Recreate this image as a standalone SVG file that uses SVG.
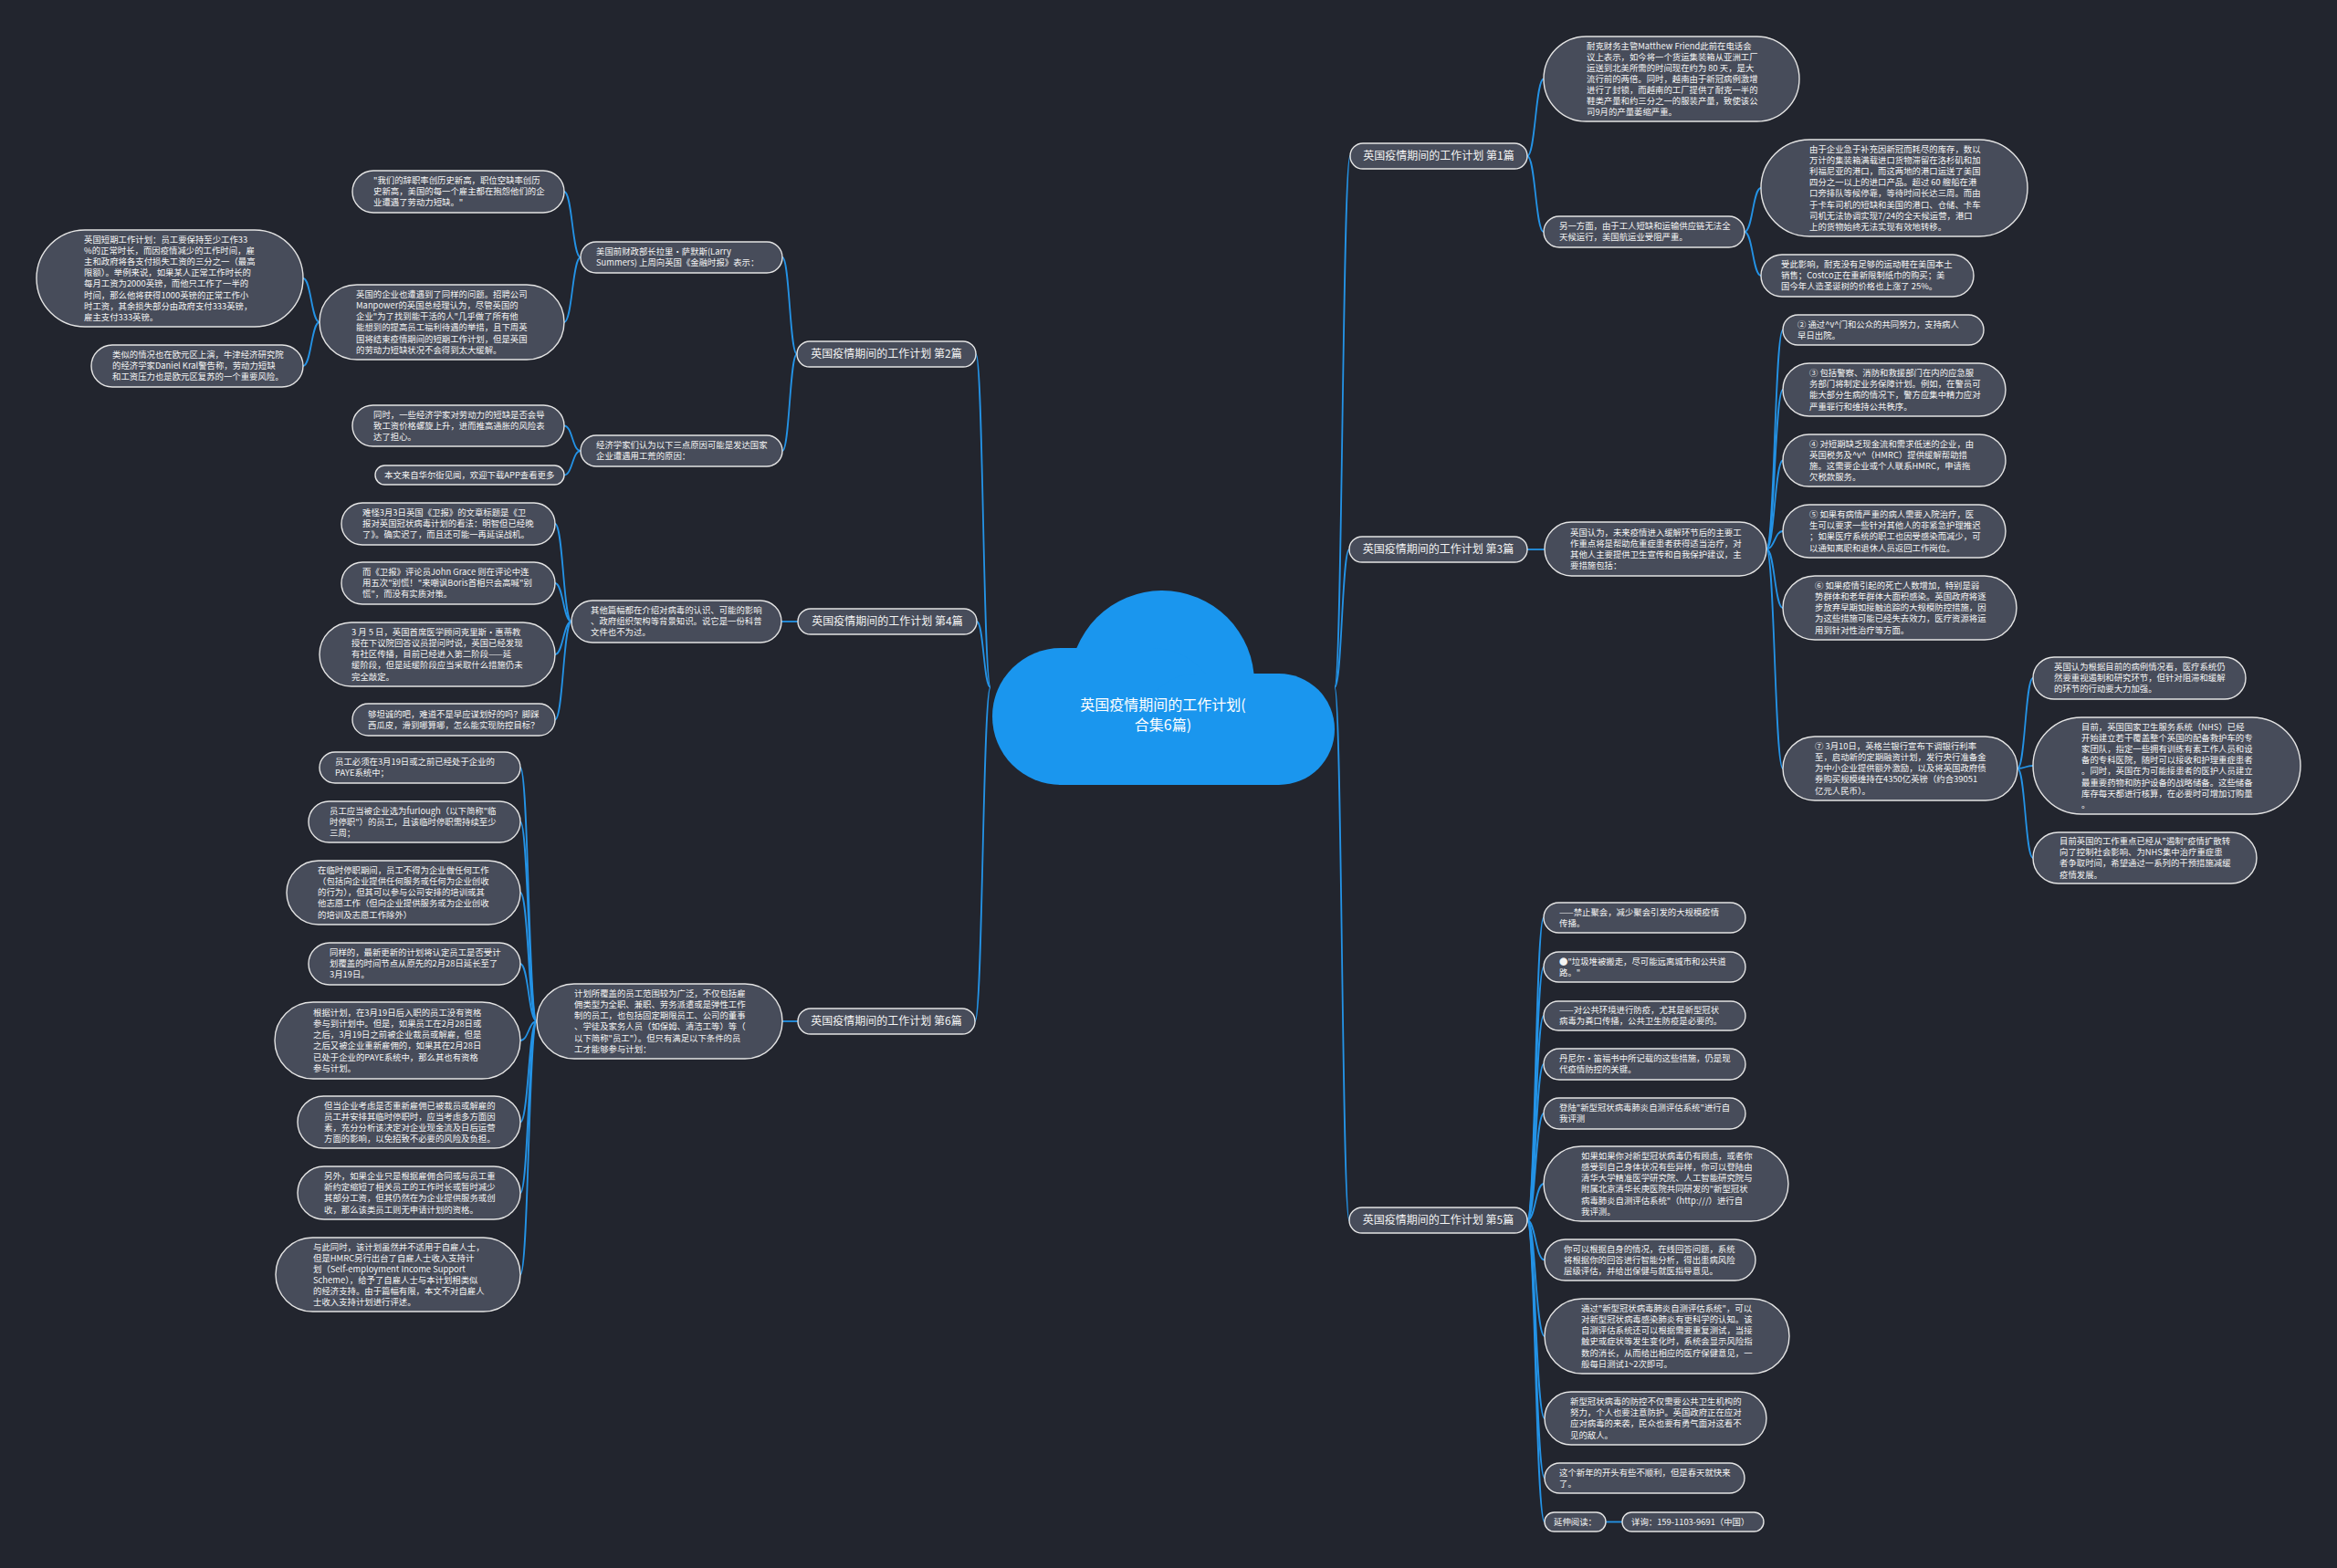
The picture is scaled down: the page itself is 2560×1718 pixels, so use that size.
<svg xmlns="http://www.w3.org/2000/svg" width="2560" height="1718" viewBox="0 0 2560 1718">
<style>
.bg{fill:#22252e}
.cloud{fill:#1a96ee}
.nd rect{fill:#474c5a;stroke:#e4e4e4;stroke-width:1.4}
.t{font-family:"Noto Sans CJK SC","Microsoft YaHei",sans-serif;font-size:9.4px;fill:#f4f4f4}
.lb{font-family:"Noto Sans CJK SC","Microsoft YaHei",sans-serif;font-size:12px;fill:#f4f4f4;text-anchor:middle}
.ct{font-family:"Noto Sans CJK SC","Microsoft YaHei",sans-serif;font-size:16px;fill:#ffffff;text-anchor:middle}
.conn path{fill:none;stroke:#2493e6;stroke-width:1.8}
</style>
<rect class="bg" x="0" y="0" width="2560" height="1718"/>
<g id="connectors" class="conn">
<path d="M1462 753 C1470.5 753 1470.5 171 1479 171"/>
<path d="M1462 753 C1470 753 1470 602 1478 602"/>
<path d="M1462 753 C1470 753 1470 1337 1478 1337"/>
<path d="M1085 753 C1077 753 1077 388 1069 388"/>
<path d="M1085 753 C1077.5 753 1077.5 681 1070 681"/>
<path d="M1085 753 C1076.5 753 1076.5 1119 1068 1119"/>
<path d="M1673 171 C1682 171 1682 86.5 1691 86.5"/>
<path d="M1673 171 C1682 171 1682 254 1691 254"/>
<path d="M1911 254 C1920 254 1920 206 1929 206"/>
<path d="M1911 254 C1920 254 1920 302 1929 302"/>
<path d="M1673 602 L1692 602"/>
<path d="M1935 601.5 C1944 601.5 1944 361.5 1953 361.5"/>
<path d="M1935 601.5 C1944 601.5 1944 427 1953 427"/>
<path d="M1935 601.5 C1944 601.5 1944 504.5 1953 504.5"/>
<path d="M1935 601.5 C1944 601.5 1944 582 1953 582"/>
<path d="M1935 601.5 C1944 601.5 1944 666 1953 666"/>
<path d="M1935 601.5 C1944 601.5 1944 842 1953 842"/>
<path d="M2210 842 C2218.5 842 2218.5 743 2227 743"/>
<path d="M2210 842 C2218.5 842 2218.5 839 2227 839"/>
<path d="M2210 842 C2218.5 842 2218.5 940 2227 940"/>
<path d="M1673 1337 C1682 1337 1682 1005.5 1691 1005.5"/>
<path d="M1673 1337 C1682 1337 1682 1059.5 1691 1059.5"/>
<path d="M1673 1337 C1682 1337 1682 1113 1691 1113"/>
<path d="M1673 1337 C1682 1337 1682 1166 1691 1166"/>
<path d="M1673 1337 C1682 1337 1682 1220 1691 1220"/>
<path d="M1673 1337 C1682 1337 1682 1297 1691 1297"/>
<path d="M1673 1337 C1682 1337 1682 1380.5 1692 1380.5"/>
<path d="M1673 1337 C1682 1337 1682 1464 1692 1464"/>
<path d="M1673 1337 C1682 1337 1682 1554 1692 1554"/>
<path d="M1673 1337 C1682 1337 1682 1619.5 1692 1619.5"/>
<path d="M1673 1337 C1682 1337 1682 1667.5 1692 1667.5"/>
<path d="M1759 1667.5 L1777 1667.5"/>
<path d="M873 388 C865 388 865 282 857 282"/>
<path d="M873 388 C865 388 865 494 857 494"/>
<path d="M636 282 C627 282 627 210 618 210"/>
<path d="M636 282 C627 282 627 353 618 353"/>
<path d="M350 353 C341 353 341 305 332 305"/>
<path d="M350 353 C341 353 341 401 332 401"/>
<path d="M636 494 C627 494 627 466.5 618 466.5"/>
<path d="M636 494 C627 494 627 520.5 618 520.5"/>
<path d="M874 681 L856 681"/>
<path d="M626 681 C617 681 617 574 608 574"/>
<path d="M626 681 C617 681 617 639 608 639"/>
<path d="M626 681 C617 681 617 717 608 717"/>
<path d="M626 681 C617 681 617 788.5 608 788.5"/>
<path d="M874 1119 L857 1119"/>
<path d="M588 1119 C579 1119 579 841 570 841"/>
<path d="M588 1119 C579 1119 579 900.5 570 900.5"/>
<path d="M588 1119 C579 1119 579 978 570 978"/>
<path d="M588 1119 C579 1119 579 1056 570 1056"/>
<path d="M588 1119 C579 1119 579 1140 570 1140"/>
<path d="M588 1119 C579 1119 579 1229.5 570 1229.5"/>
<path d="M588 1119 C579 1119 579 1307 570 1307"/>
<path d="M588 1119 C579 1119 579 1396.5 570 1396.5"/>
</g>

<g id="root">
<circle class="cloud" cx="1273" cy="748" r="101"/>
<rect class="cloud" x="1087" y="710" width="250" height="150" rx="75" ry="75"/>
<rect class="cloud" x="1250" y="738" width="212" height="122" rx="61" ry="61"/>
<rect class="cloud" x="1160" y="760" width="240" height="100"/>
<text class="ct" x="1274" y="778">英国疫情期间的工作计划(</text>
<text class="ct" x="1274" y="800">合集6篇)</text>
</g>

<g id="l1-1" class="nd"><rect x="1479" y="157" width="194" height="28" rx="14"/><text class="lb" x="1576" y="175.3">英国疫情期间的工作计划 第1篇</text></g>
<g id="l1-3" class="nd"><rect x="1478" y="588" width="195" height="28" rx="14"/><text class="lb" x="1575.5" y="606.3">英国疫情期间的工作计划 第3篇</text></g>
<g id="l1-5" class="nd"><rect x="1478" y="1323" width="195" height="28" rx="14"/><text class="lb" x="1575.5" y="1341.3">英国疫情期间的工作计划 第5篇</text></g>
<g id="l1-2" class="nd"><rect x="873" y="374" width="196" height="28" rx="14"/><text class="lb" x="971" y="392.3">英国疫情期间的工作计划 第2篇</text></g>
<g id="l1-4" class="nd"><rect x="874" y="667" width="196" height="28" rx="14"/><text class="lb" x="972" y="685.3">英国疫情期间的工作计划 第4篇</text></g>
<g id="l1-6" class="nd"><rect x="874" y="1105" width="194" height="28" rx="14"/><text class="lb" x="971" y="1123.3">英国疫情期间的工作计划 第6篇</text></g>

<g id="p1a" class="nd"><rect x="1691" y="40" width="280" height="93" rx="46.5"/><text class="t"><tspan x="1738" y="53.5">耐克财务主管Matthew Friend此前在电话会</tspan><tspan x="1738" y="65.6">议上表示，如今将一个货运集装箱从亚洲工厂</tspan><tspan x="1738" y="77.7">运送到北美所需的时间现在约为 80 天，是大</tspan><tspan x="1738" y="89.8">流行前的两倍。同时，越南由于新冠病例激增</tspan><tspan x="1738" y="101.9">进行了封锁，而越南的工厂提供了耐克一半的</tspan><tspan x="1738" y="114">鞋类产量和约三分之一的服装产量，致使该公</tspan><tspan x="1738" y="126.1">司9月的产量萎缩严重。</tspan></text></g>
<g id="p1b" class="nd"><rect x="1691" y="237" width="220" height="34" rx="17"/><text class="t"><tspan x="1708" y="251.3">另一方面，由于工人短缺和运输供应链无法全</tspan><tspan x="1708" y="263.4">天候运行，美国航运业受阻严重。</tspan></text></g>
<g id="p1c" class="nd"><rect x="1929" y="153" width="292" height="106" rx="53"/><text class="t"><tspan x="1982" y="167">由于企业急于补充因新冠而耗尽的库存，数以</tspan><tspan x="1982" y="179.1">万计的集装箱满载进口货物滞留在洛杉矶和加</tspan><tspan x="1982" y="191.2">利福尼亚的港口，而这两地的港口运送了美国</tspan><tspan x="1982" y="203.3">四分之一以上的进口产品。超过 60 艘船在港</tspan><tspan x="1982" y="215.4">口旁排队等候停靠，等待时间长达三周。而由</tspan><tspan x="1982" y="227.5">于卡车司机的短缺和美国的港口、仓储、卡车</tspan><tspan x="1982" y="239.6">司机无法协调实现7/24的全天候运营，港口</tspan><tspan x="1982" y="251.7">上的货物始终无法实现有效地转移。</tspan></text></g>
<g id="p1d" class="nd"><rect x="1929" y="279" width="233" height="46" rx="23"/><text class="t"><tspan x="1951" y="293.2">受此影响，耐克没有足够的运动鞋在美国本土</tspan><tspan x="1951" y="305.3">销售；Costco正在重新限制纸巾的购买；美</tspan><tspan x="1951" y="317.4">国今年人造圣诞树的价格也上涨了 25%。</tspan></text></g>

<g id="p3main" class="nd"><rect x="1692" y="572" width="243" height="59" rx="29.5"/><text class="t"><tspan x="1720" y="586.7">英国认为，未来疫情进入缓解环节后的主要工</tspan><tspan x="1720" y="598.8">作重点将是帮助危重症患者获得适当治疗，对</tspan><tspan x="1720" y="610.9">其他人主要提供卫生宣传和自我保护建议，主</tspan><tspan x="1720" y="623">要措施包括：</tspan></text></g>
<g id="p3-2" class="nd"><rect x="1953" y="345" width="220" height="33" rx="16.5"/><text class="t"><tspan x="1969" y="358.8">② 通过^v^门和公众的共同努力，支持病人</tspan><tspan x="1969" y="370.9">早日出院。</tspan></text></g>
<g id="p3-3" class="nd"><rect x="1953" y="398" width="244" height="58" rx="29"/><text class="t"><tspan x="1982" y="412.2">③ 包括警察、消防和救援部门在内的应急服</tspan><tspan x="1982" y="424.3">务部门将制定业务保障计划。例如，在警员可</tspan><tspan x="1982" y="436.4">能大部分生病的情况下，警方应集中精力应对</tspan><tspan x="1982" y="448.5">严重罪行和维持公共秩序。</tspan></text></g>
<g id="p3-4" class="nd"><rect x="1953" y="476" width="244" height="57" rx="28.5"/><text class="t"><tspan x="1982" y="489.7">④ 对短期缺乏现金流和需求低迷的企业，由</tspan><tspan x="1982" y="501.8">英国税务及^v^（HMRC）提供缓解帮助措</tspan><tspan x="1982" y="513.9">施。这需要企业或个人联系HMRC，申请拖</tspan><tspan x="1982" y="526">欠税款服务。</tspan></text></g>
<g id="p3-5" class="nd"><rect x="1953" y="553" width="244" height="58" rx="29"/><text class="t"><tspan x="1982" y="567.2">⑤ 如果有病情严重的病人需要入院治疗，医</tspan><tspan x="1982" y="579.3">生可以要求一些针对其他人的非紧急护理推迟</tspan><tspan x="1982" y="591.4">；如果医疗系统的职工也因受感染而减少，可</tspan><tspan x="1982" y="603.5">以通知离职和退休人员返回工作岗位。</tspan></text></g>
<g id="p3-6" class="nd"><rect x="1953" y="631" width="256" height="70" rx="35"/><text class="t"><tspan x="1988" y="645.1">⑥ 如果疫情引起的死亡人数增加，特别是弱</tspan><tspan x="1988" y="657.2">势群体和老年群体大面积感染。英国政府将逐</tspan><tspan x="1988" y="669.3">步放弃早期如接触追踪的大规模防控措施，因</tspan><tspan x="1988" y="681.4">为这些措施可能已经失去效力，医疗资源将运</tspan><tspan x="1988" y="693.5">用到针对性治疗等方面。</tspan></text></g>
<g id="p3-7" class="nd"><rect x="1953" y="807" width="257" height="70" rx="35"/><text class="t"><tspan x="1988" y="821.1">⑦ 3月10日，英格兰银行宣布下调银行利率</tspan><tspan x="1988" y="833.2">至，启动新的定期融资计划，发行央行准备金</tspan><tspan x="1988" y="845.3">为中小企业提供额外激励，以及将英国政府债</tspan><tspan x="1988" y="857.4">券购买规模维持在4350亿英镑（约合39051</tspan><tspan x="1988" y="869.5">亿元人民币）。</tspan></text></g>
<g id="p3-7a" class="nd"><rect x="2227" y="720" width="233" height="46" rx="23"/><text class="t"><tspan x="2250" y="734.2">英国认为根据目前的病例情况看，医疗系统仍</tspan><tspan x="2250" y="746.3">然要重视遏制和研究环节，但针对阻滞和缓解</tspan><tspan x="2250" y="758.4">的环节的行动要大力加强。</tspan></text></g>
<g id="p3-7b" class="nd"><rect x="2227" y="786" width="293" height="106" rx="53"/><text class="t"><tspan x="2280" y="800">目前，英国国家卫生服务系统（NHS）已经</tspan><tspan x="2280" y="812.1">开始建立若干覆盖整个英国的配备救护车的专</tspan><tspan x="2280" y="824.2">家团队，指定一些拥有训练有素工作人员和设</tspan><tspan x="2280" y="836.3">备的专科医院，随时可以接收和护理重症患者</tspan><tspan x="2280" y="848.4">。同时，英国在为可能接患者的医护人员建立</tspan><tspan x="2280" y="860.5">最重要药物和防护设备的战略储备。这些储备</tspan><tspan x="2280" y="872.6">库存每天都进行核算，在必要时可增加订购量</tspan><tspan x="2280" y="884.7">。</tspan></text></g>
<g id="p3-7c" class="nd"><rect x="2227" y="912" width="245" height="56" rx="28"/><text class="t"><tspan x="2256" y="925.2">目前英国的工作重点已经从"遏制"疫情扩散转</tspan><tspan x="2256" y="937.3">向了控制社会影响、为NHS集中治疗重症患</tspan><tspan x="2256" y="949.4">者争取时间，希望通过一系列的干预措施减缓</tspan><tspan x="2256" y="961.5">疫情发展。</tspan></text></g>

<g id="p5-1" class="nd"><rect x="1691" y="989" width="221" height="33" rx="16.5"/><text class="t"><tspan x="1708" y="1002.8">——禁止聚会，减少聚会引发的大规模疫情</tspan><tspan x="1708" y="1014.9">传播。</tspan></text></g>
<g id="p5-2" class="nd"><rect x="1691" y="1043" width="221" height="33" rx="16.5"/><text class="t"><tspan x="1708" y="1056.8">●"垃圾堆被搬走，尽可能远离城市和公共道</tspan><tspan x="1708" y="1068.9">路。"</tspan></text></g>
<g id="p5-3" class="nd"><rect x="1691" y="1097" width="221" height="32" rx="16"/><text class="t"><tspan x="1708" y="1110.3">——对公共环境进行防疫，尤其是新型冠状</tspan><tspan x="1708" y="1122.4">病毒为粪口传播，公共卫生防疫是必要的。</tspan></text></g>
<g id="p5-4" class="nd"><rect x="1691" y="1149" width="221" height="34" rx="17"/><text class="t"><tspan x="1708" y="1163.3">丹尼尔·笛福书中所记载的这些措施，仍是现</tspan><tspan x="1708" y="1175.4">代疫情防控的关键。</tspan></text></g>
<g id="p5-5" class="nd"><rect x="1691" y="1203" width="221" height="34" rx="17"/><text class="t"><tspan x="1708" y="1217.3">登陆"新型冠状病毒肺炎自测评估系统"进行自</tspan><tspan x="1708" y="1229.4">我评测</tspan></text></g>
<g id="p5-6" class="nd"><rect x="1691" y="1256" width="268" height="82" rx="41"/><text class="t"><tspan x="1732" y="1270.1">如果如果你对新型冠状病毒仍有顾虑，或者你</tspan><tspan x="1732" y="1282.2">感受到自己身体状况有些异样，你可以登陆由</tspan><tspan x="1732" y="1294.3">清华大学精准医学研究院、人工智能研究院与</tspan><tspan x="1732" y="1306.4">附属北京清华长庚医院共同研发的"新型冠状</tspan><tspan x="1732" y="1318.5">病毒肺炎自测评估系统"（http:///）进行自</tspan><tspan x="1732" y="1330.6">我评测。</tspan></text></g>
<g id="p5-7" class="nd"><rect x="1692" y="1358" width="231" height="45" rx="22.5"/><text class="t"><tspan x="1713" y="1371.7">你可以根据自身的情况，在线回答问题，系统</tspan><tspan x="1713" y="1383.8">将根据你的回答进行智能分析，得出患病风险</tspan><tspan x="1713" y="1395.9">层级评估，并给出保健与就医指导意见。</tspan></text></g>
<g id="p5-8" class="nd"><rect x="1692" y="1423" width="268" height="82" rx="41"/><text class="t"><tspan x="1732" y="1437.1">通过"新型冠状病毒肺炎自测评估系统"，可以</tspan><tspan x="1732" y="1449.2">对新型冠状病毒感染肺炎有更科学的认知。该</tspan><tspan x="1732" y="1461.3">自测评估系统还可以根据需要重复测试，当接</tspan><tspan x="1732" y="1473.4">触史或症状等发生变化时，系统会显示风险指</tspan><tspan x="1732" y="1485.5">数的消长，从而给出相应的医疗保健意见，一</tspan><tspan x="1732" y="1497.6">般每日测试1~2次即可。</tspan></text></g>
<g id="p5-9" class="nd"><rect x="1692" y="1525" width="243" height="58" rx="29"/><text class="t"><tspan x="1720" y="1539.2">新型冠状病毒的防控不仅需要公共卫生机构的</tspan><tspan x="1720" y="1551.3">努力，个人也要注意防护。英国政府正在应对</tspan><tspan x="1720" y="1563.4">应对病毒的来袭，民众也要有勇气面对这看不</tspan><tspan x="1720" y="1575.5">见的敌人。</tspan></text></g>
<g id="p5-10" class="nd"><rect x="1692" y="1603" width="219" height="33" rx="16.5"/><text class="t"><tspan x="1708" y="1616.8">这个新年的开头有些不顺利，但是春天就快来</tspan><tspan x="1708" y="1628.9">了。</tspan></text></g>
<g id="p5-11" class="nd"><rect x="1692" y="1657" width="67" height="21" rx="10.5"/><text class="t" x="1702" y="1670.8">延伸阅读：</text></g>
<g id="p5-12" class="nd"><rect x="1777" y="1657" width="155" height="21" rx="10.5"/><text class="t" x="1787" y="1670.8">详询：159-1103-9691（中国）</text></g>

<g id="p2a" class="nd"><rect x="636" y="265" width="221" height="34" rx="17"/><text class="t"><tspan x="653" y="279.3">美国前财政部长拉里•萨默斯(Larry</tspan><tspan x="653" y="291.4">Summers) 上周向英国《金融时报》表示：</tspan></text></g>
<g id="p2b" class="nd"><rect x="636" y="477" width="221" height="34" rx="17"/><text class="t"><tspan x="653" y="491.3">经济学家们认为以下三点原因可能是发达国家</tspan><tspan x="653" y="503.4">企业遭遇用工荒的原因：</tspan></text></g>
<g id="p2a1" class="nd"><rect x="386" y="187" width="232" height="46" rx="23"/><text class="t"><tspan x="409" y="201.2">"我们的辞职率创历史新高，职位空缺率创历</tspan><tspan x="409" y="213.3">史新高，美国的每一个雇主都在抱怨他们的企</tspan><tspan x="409" y="225.4">业遭遇了劳动力短缺。"</tspan></text></g>
<g id="p2a2" class="nd"><rect x="350" y="312" width="268" height="82" rx="41"/><text class="t"><tspan x="390" y="326.1">英国的企业也遭遇到了同样的问题。招聘公司</tspan><tspan x="390" y="338.2">Manpower的英国总经理认为，尽管英国的</tspan><tspan x="390" y="350.3">企业"为了找到能干活的人"几乎做了所有他</tspan><tspan x="390" y="362.4">能想到的提高员工福利待遇的举措，且下周英</tspan><tspan x="390" y="374.5">国将结束疫情期间的短期工作计划，但是英国</tspan><tspan x="390" y="386.6">的劳动力短缺状况不会得到太大缓解。</tspan></text></g>
<g id="p2a2a" class="nd"><rect x="40" y="252" width="292" height="106" rx="53"/><text class="t"><tspan x="92" y="266">英国短期工作计划：员工要保持至少工作33</tspan><tspan x="92" y="278.1">%的正常时长，而因疫情减少的工作时间，雇</tspan><tspan x="92" y="290.2">主和政府将各支付损失工资的三分之一（最高</tspan><tspan x="92" y="302.3">限额）。举例来说，如果某人正常工作时长的</tspan><tspan x="92" y="314.4">每月工资为2000英镑，而他只工作了一半的</tspan><tspan x="92" y="326.5">时间，那么他将获得1000英镑的正常工作小</tspan><tspan x="92" y="338.6">时工资，其余损失部分由政府支付333英镑，</tspan><tspan x="92" y="350.7">雇主支付333英镑。</tspan></text></g>
<g id="p2a2b" class="nd"><rect x="100" y="378" width="232" height="46" rx="23"/><text class="t"><tspan x="123" y="392.2">类似的情况也在欧元区上演，牛津经济研究院</tspan><tspan x="123" y="404.3">的经济学家Daniel Kral警告称，劳动力短缺</tspan><tspan x="123" y="416.4">和工资压力也是欧元区复苏的一个重要风险。</tspan></text></g>
<g id="p2b1" class="nd"><rect x="386" y="444" width="232" height="45" rx="22.5"/><text class="t"><tspan x="409" y="457.7">同时，一些经济学家对劳动力的短缺是否会导</tspan><tspan x="409" y="469.8">致工资价格螺旋上升，进而推高通胀的风险表</tspan><tspan x="409" y="481.9">达了担心。</tspan></text></g>
<g id="p2b2" class="nd"><rect x="411" y="510" width="207" height="21" rx="10.5"/><text class="t" x="421" y="523.8">本文来自华尔街见闻，欢迎下载APP查看更多</text></g>

<g id="p4main" class="nd"><rect x="626" y="658" width="230" height="46" rx="23"/><text class="t"><tspan x="647" y="672.2">其他篇幅都在介绍对病毒的认识、可能的影响</tspan><tspan x="647" y="684.3">、政府组织架构等背景知识。说它是一份科普</tspan><tspan x="647" y="696.4">文件也不为过。</tspan></text></g>
<g id="p4a" class="nd"><rect x="374" y="551" width="234" height="46" rx="23"/><text class="t"><tspan x="397" y="565.2">难怪3月3日英国《卫报》的文章标题是《卫</tspan><tspan x="397" y="577.3">报对英国冠状病毒计划的看法：明智但已经晚</tspan><tspan x="397" y="589.4">了》。确实迟了，而且还可能一再延误战机。</tspan></text></g>
<g id="p4b" class="nd"><rect x="374" y="616" width="234" height="46" rx="23"/><text class="t"><tspan x="397" y="630.2">而《卫报》评论员John Grace 则在评论中连</tspan><tspan x="397" y="642.3">用五次"别慌！"来嘲讽Boris首相只会高喊"别</tspan><tspan x="397" y="654.4">慌"，而没有实质对策。</tspan></text></g>
<g id="p4c" class="nd"><rect x="350" y="682" width="258" height="70" rx="35"/><text class="t"><tspan x="385" y="696.1">3 月 5 日，英国首席医学顾问克里斯·惠蒂教</tspan><tspan x="385" y="708.2">授在下议院回答议员提问时说，英国已经发现</tspan><tspan x="385" y="720.3">有社区传播，目前已经进入第二阶段——延</tspan><tspan x="385" y="732.4">缓阶段，但是延缓阶段应当采取什么措施仍未</tspan><tspan x="385" y="744.5">完全敲定。</tspan></text></g>
<g id="p4d" class="nd"><rect x="386" y="771" width="222" height="35" rx="17.5"/><text class="t"><tspan x="403" y="785.8">够坦诚的吧，难道不是早应谋划好的吗？脚踩</tspan><tspan x="403" y="797.9">西瓜皮，滑到哪算哪，怎么能实现防控目标？</tspan></text></g>

<g id="p6main" class="nd"><rect x="588" y="1078" width="269" height="82" rx="41"/><text class="t"><tspan x="629" y="1092.1">计划所覆盖的员工范围较为广泛，不仅包括雇</tspan><tspan x="629" y="1104.2">佣类型为全职、兼职、劳务派遣或是弹性工作</tspan><tspan x="629" y="1116.3">制的员工，也包括固定期限员工、公司的董事</tspan><tspan x="629" y="1128.4">、学徒及家务人员（如保姆、清洁工等）等（</tspan><tspan x="629" y="1140.5">以下简称"员工"）。但只有满足以下条件的员</tspan><tspan x="629" y="1152.6">工才能够参与计划：</tspan></text></g>
<g id="p6a" class="nd"><rect x="350" y="824" width="220" height="34" rx="17"/><text class="t"><tspan x="367" y="838.3">员工必须在3月19日或之前已经处于企业的</tspan><tspan x="367" y="850.4">PAYE系统中；</tspan></text></g>
<g id="p6b" class="nd"><rect x="338" y="878" width="232" height="45" rx="22.5"/><text class="t"><tspan x="361" y="891.7">员工应当被企业选为furlough（以下简称"临</tspan><tspan x="361" y="903.8">时停职"）的员工，且该临时停职需持续至少</tspan><tspan x="361" y="915.9">三周；</tspan></text></g>
<g id="p6c" class="nd"><rect x="314" y="943" width="256" height="70" rx="35"/><text class="t"><tspan x="348" y="957.1">在临时停职期间，员工不得为企业做任何工作</tspan><tspan x="348" y="969.2">（包括向企业提供任何服务或任何为企业创收</tspan><tspan x="348" y="981.3">的行为），但其可以参与公司安排的培训或其</tspan><tspan x="348" y="993.4">他志愿工作（但向企业提供服务或为企业创收</tspan><tspan x="348" y="1005.5">的培训及志愿工作除外）</tspan></text></g>
<g id="p6d" class="nd"><rect x="338" y="1033" width="232" height="46" rx="23"/><text class="t"><tspan x="361" y="1047.2">同样的，最新更新的计划将认定员工是否受计</tspan><tspan x="361" y="1059.3">划覆盖的时间节点从原先的2月28日延长至了</tspan><tspan x="361" y="1071.4">3月19日。</tspan></text></g>
<g id="p6e" class="nd"><rect x="301" y="1098" width="269" height="84" rx="42"/><text class="t"><tspan x="343" y="1113.1">根据计划，在3月19日后入职的员工没有资格</tspan><tspan x="343" y="1125.2">参与到计划中。但是，如果员工在2月28日或</tspan><tspan x="343" y="1137.3">之后，3月19日之前被企业裁员或解雇，但是</tspan><tspan x="343" y="1149.4">之后又被企业重新雇佣的，如果其在2月28日</tspan><tspan x="343" y="1161.5">已处于企业的PAYE系统中，那么其也有资格</tspan><tspan x="343" y="1173.6">参与计划。</tspan></text></g>
<g id="p6f" class="nd"><rect x="326" y="1201" width="244" height="57" rx="28.5"/><text class="t"><tspan x="355" y="1214.7">但当企业考虑是否重新雇佣已被裁员或解雇的</tspan><tspan x="355" y="1226.8">员工并安排其临时停职时，应当考虑多方面因</tspan><tspan x="355" y="1238.9">素，充分分析该决定对企业现金流及日后运营</tspan><tspan x="355" y="1251">方面的影响，以免招致不必要的风险及负担。</tspan></text></g>
<g id="p6g" class="nd"><rect x="326" y="1278" width="244" height="58" rx="29"/><text class="t"><tspan x="355" y="1292.2">另外，如果企业只是根据雇佣合同或与员工重</tspan><tspan x="355" y="1304.3">新约定缩短了相关员工的工作时长或暂时减少</tspan><tspan x="355" y="1316.4">其部分工资，但其仍然在为企业提供服务或创</tspan><tspan x="355" y="1328.5">收，那么该类员工则无申请计划的资格。</tspan></text></g>
<g id="p6h" class="nd"><rect x="302" y="1356" width="268" height="81" rx="40.5"/><text class="t"><tspan x="343" y="1369.6">与此同时，该计划虽然并不适用于自雇人士，</tspan><tspan x="343" y="1381.7">但是HMRC另行出台了自雇人士收入支持计</tspan><tspan x="343" y="1393.8">划（Self-employment Income Support</tspan><tspan x="343" y="1405.9">Scheme），给予了自雇人士与本计划相类似</tspan><tspan x="343" y="1418">的经济支持。由于篇幅有限，本文不对自雇人</tspan><tspan x="343" y="1430.1">士收入支持计划进行评述。</tspan></text></g>
</svg>
